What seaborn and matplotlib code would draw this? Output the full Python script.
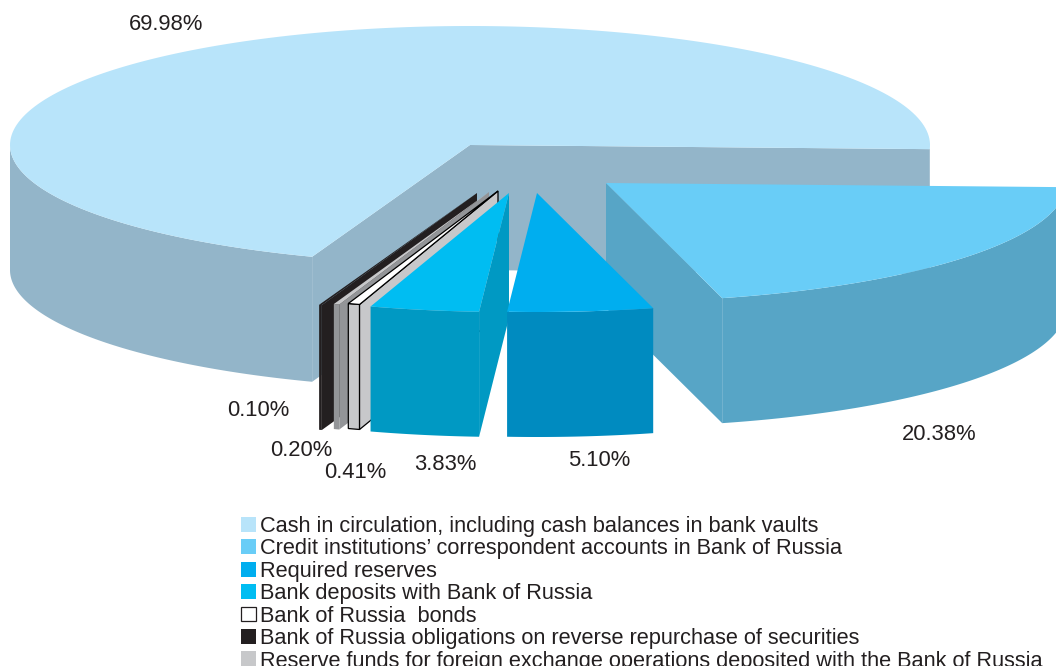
import numpy as np
import matplotlib
matplotlib.use('Agg')
import matplotlib.pyplot as plt
from matplotlib.patches import Patch
import seaborn as sns

# Values, in pie order (counter-clockwise from the right)
slices = ['Cash', 'Obligations', 'Reserve funds', 'Bonds', 'Deposits', 'Required', 'Credit']
shares = [69.98, 0.10, 0.20, 0.41, 3.83, 5.10, 20.38]

# Legend
legend_labels = [
    'Cash in circulation, including cash balances in bank vaults',
    'Credit institutions\u2019 correspondent accounts in Bank of Russia',
    'Required reserves',
    'Bank deposits with Bank of Russia',
    'Bank of Russia  bonds',
    'Bank of Russia obligations on reverse repurchase of securities',
    'Reserve funds for foreign exchange operations deposited with the Bank of Russia',
]
legend_slices = ['Cash', 'Credit', 'Required', 'Deposits', 'Bonds', 'Obligations', 'Reserve funds']

# Style of each slice: top colour, side colour, outline
top_colors = sns.color_palette(['#B8E4FA', '#231F20', '#C7C8CA', '#FFFFFF', '#00BDF2', '#00AEEF', '#69CDF7'])
side_colors = sns.color_palette(['#93B5C9', '#231F20', '#939598', '#C7C8CA', '#0099C3', '#008BC0', '#57A5C6'])
outlined = {'Bonds'}

# Layout in pixels
apex = {'Cash': (470, 145), 'Obligations': (477, 193), 'Reserve funds': (489, 192), 'Bonds': (498, 191),
        'Deposits': (509, 193), 'Required': (537, 193), 'Credit': (606, 183)}
label_pos = {'Cash': (166, 25), 'Obligations': (258, 410), 'Reserve funds': (301, 451), 'Bonds': (355, 472),
             'Deposits': (445, 464), 'Required': (599, 461), 'Credit': (939, 434)}
rx, ry, depth = 460, 119, 125
start_angle = -2.0

sns.set_theme(style='white')
plt.rcParams['font.family'] = ['Liberation Sans', 'DejaVu Sans']

fig = plt.figure(figsize=(10.56, 6.66), dpi=100)
ax = fig.add_axes([0, 0, 1, 1])
ax.set_xlim(0, 1056)
ax.set_ylim(666, 0)
ax.axis('off')


def rim(cx, cy, a0, a1):
    t = np.radians(np.linspace(a0, a1, 200))
    return cx + rx * np.cos(t), cy - ry * np.sin(t)


def draw_slice(name, a0, a1, top, side):
    cx, cy = apex[name]
    edge = 'black' if name in outlined else 'none'
    lw = 0.9 if name in outlined else 0

    # outer wall, only the part facing the viewer
    for lo, hi in [(-180, 0), (180, 360)]:
        b0, b1 = max(a0, lo), min(a1, hi)
        if b1 > b0:
            x, y = rim(cx, cy, b0, b1)
            ax.fill(np.r_[x, x[::-1]], np.r_[y, y[::-1] + depth], color=side, ec=edge, lw=lw)

    # cut faces
    for a, visible in [(a0, np.cos(np.radians(a0)) > 0), (a1, np.cos(np.radians(a1)) < 0)]:
        if visible:
            x, y = rim(cx, cy, a, a)
            x, y = x[0], y[0]
            ax.fill([cx, x, x, cx], [cy, y, y + depth, cy + depth], fc=side, ec=edge, lw=lw)

    # top
    x, y = rim(cx, cy, a0, a1)
    ax.fill(np.r_[cx, x], np.r_[cy, y], fc=top, ec=edge, lw=lw)


# Angles from the shares
spans = np.array(shares) * 3.6
ends = start_angle + np.cumsum(spans)
starts = ends - spans

for name in ['Cash', 'Credit', 'Obligations', 'Reserve funds', 'Bonds', 'Deposits', 'Required']:
    i = slices.index(name)
    draw_slice(name, starts[i], ends[i], top_colors[i], side_colors[i])

for name, share in zip(slices, shares):
    x, y = label_pos[name]
    ax.text(x, y, f'{share:.2f}%', ha='center', va='center', fontsize=15.8, color='#231F20')

handles = []
for name, label in zip(legend_slices, legend_labels):
    c = top_colors[slices.index(name)]
    ec = '#231F20' if name == 'Bonds' else 'none'
    handles.append(Patch(facecolor=c, edgecolor=ec, linewidth=0.9, label=label))

ax.legend(handles=handles, loc='upper left', bbox_to_anchor=(241 / 1056, 1 - 516 / 666),
          bbox_transform=fig.transFigure, frameon=False, fontsize=15.7, borderpad=0, borderaxespad=0,
          handlelength=0.67, handleheight=0.67, handletextpad=0.2, labelspacing=0.065,
          labelcolor='#231F20')

fig.savefig('out.png', dpi=100)
